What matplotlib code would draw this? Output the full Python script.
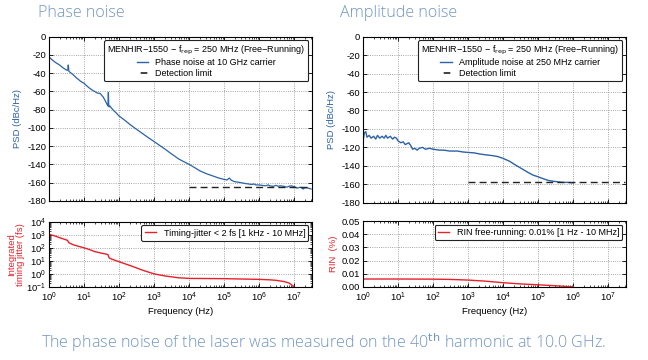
import matplotlib
matplotlib.use("Agg")
import matplotlib.pyplot as plt
from matplotlib.lines import Line2D
from matplotlib.ticker import LogLocator, NullFormatter, MultipleLocator

plt.rcParams['font.family'] = ['Liberation Sans', 'DejaVu Sans']
plt.rcParams['axes.unicode_minus'] = False

# ---------------- data ----------------
pn_freq = [1, 1.2, 1.5, 2, 2.5, 3, 3.3, 3.45, 3.55, 3.7, 4, 5, 6, 7, 8, 10, 12, 15, 18, 20, 22, 25,
           28, 30, 35, 40, 45, 48, 49.5, 50.5, 52, 55, 60, 70, 80, 100, 150, 200, 300, 500, 700,
           1e3, 2e3, 3e3, 5e3, 7e3, 1e4, 1.5e4, 2e4, 3e4, 5e4, 7e4, 1e5, 1.2e5, 1.4e5, 1.6e5, 2e5,
           2.5e5, 3e5, 4e5, 5e5, 6e5, 7e5, 8e5, 1e6, 1.2e6, 1.5e6, 1.8e6, 2e6, 2.5e6, 3e6, 3.5e6,
           4e6, 5e6, 6e6, 7e6, 8e6, 1e7, 1.2e7, 1.5e7, 1.8e7, 2e7, 2.5e7, 3e7]
pn_db = [-22, -25, -28, -31, -34, -36, -37, -36, -31, -38, -39, -42, -45, -47, -49, -51, -54, -57, -59, -60, -61, -62,
         -62, -63, -66, -70, -74, -76, -61, -74, -77, -76, -78, -81, -83, -87, -92, -96, -101, -107, -111,
         -115, -123, -128, -134, -137, -140, -144, -147, -150, -153, -155, -156.5, -157, -155, -157.5, -159,
         -159.5, -160, -161, -161.5, -162, -161.5, -162.5, -162.5, -163, -163.5, -162.5, -163.5, -164, -163, -164,
         -163.5, -164, -165, -164, -163.5, -164.5, -166, -165, -167, -165.5, -166, -167]
pn_lim_freq = [1e4, 3e7]
pn_lim_db = [-165, -165]

an_freq = [1, 1.1, 1.2, 1.3, 1.5, 1.7, 2, 2.3, 2.6, 3, 3.5, 4, 4.5, 5, 6, 7, 8, 9, 10, 12, 14, 16, 18, 20,
           23, 26, 30, 35, 40, 50, 60, 80, 100, 150, 200, 300, 500, 700, 1e3, 1.5e3, 2e3, 3e3, 5e3,
           7e3, 1e4, 1.5e4, 2e4, 3e4, 5e4, 7e4, 1e5, 1.5e5, 2e5, 3e5, 5e5, 7e5, 1e6]
an_db = [-113, -104, -103, -109, -107, -110, -108, -111, -107, -110, -108, -110, -107, -110, -108, -111, -109, -110, -113,
         -115, -114, -117, -116, -115, -118, -122, -121, -123, -121, -120, -122, -121, -122, -123, -123, -124, -124, -125,
         -125.5, -126, -127, -128, -129, -130, -132, -135, -138, -142, -147, -150, -152, -154.5, -156, -157, -158, -158, -158.5]
an_lim_freq = [1e3, 3e7]
an_lim_db = [-157.5, -157.5]

tj_freq = [1, 1.5, 2, 3, 3.4, 3.6, 4, 5, 7, 10, 15, 20, 30, 45, 48, 52, 60, 100, 200, 500, 1e3, 2e3,
           5e3, 1e4, 1e5, 1e6, 2e6, 3e6, 5e6, 7e6, 8.5e6, 9.5e6, 1e7]
tj_fs = [1100, 800, 600, 420, 370, 260, 220, 170, 130, 100, 70, 52, 40, 32, 30, 17, 14, 8.5, 4.5, 1.8, 1.0, 0.7,
         0.5, 0.45, 0.43, 0.38, 0.35, 0.32, 0.26, 0.2, 0.14, 0.1, 0.08]

rin_freq = [1, 10, 100, 300, 1e3, 3e3, 1e4, 3e4, 1e5, 3e5, 1e6]
rin_pct = [0.0060, 0.0060, 0.0059, 0.0057, 0.0052, 0.0044, 0.0032, 0.0023, 0.0016, 0.0009, 0.0]

pn_label = 'Phase noise at 10 GHz carrier'
an_label = 'Amplitude noise at 250 MHz carrier'
lim_label = 'Detection limit'
legend_title = 'MENHIR\u22121550 \u2212 f$_{\\rm rep}$ = 250 MHz (Free\u2212Running)'
tj_label = 'Timing-jitter < 2 fs [1 kHz - 10 MHz]'
rin_label = 'RIN free-running: 0.01% [1 Hz - 10 MHz]'

# ---------------- style ----------------
blue = '#2b62a8'
red = '#e8202a'
head = '#7095c2'
fs = 6.5
tfs = 6.8

fig = plt.figure(figsize=(6.48, 3.6), dpi=100)
ax1 = fig.add_axes([0.0756, 0.442, 0.406, 0.456])
ax2 = fig.add_axes([0.0756, 0.203, 0.406, 0.181])
ax3 = fig.add_axes([0.5602, 0.437, 0.406, 0.461])
ax4 = fig.add_axes([0.5602, 0.203, 0.406, 0.183])

for ax in (ax1, ax2, ax3, ax4):
    ax.set_xscale('log')
    ax.set_xlim(1, 3.2e7)
    ax.xaxis.set_major_locator(LogLocator(base=10, numticks=12))
    ax.xaxis.set_minor_locator(LogLocator(base=10, subs=range(2, 10), numticks=12))
    ax.xaxis.set_minor_formatter(NullFormatter())
    ax.tick_params(which='both', direction='in', top=True, right=True, labelsize=tfs, pad=2)
    ax.tick_params(axis='x', which='both', pad=3)
    ax.tick_params(which='major', length=3, width=0.6)
    ax.tick_params(which='minor', length=1.5, width=0.5)
    ax.grid(True, which='major', linestyle=':', color='#888888', linewidth=0.6)
    for s in ax.spines.values():
        s.set_linewidth(0.8)

def legend(ax, handles=None, **kw):
    if handles is not None:
        kw['handles'] = handles
    lg = ax.legend(loc='upper right', fontsize=fs, frameon=True, fancybox=True, framealpha=1,
                   borderpad=0.35, handlelength=1.3, labelspacing=0.2, borderaxespad=0.4, **kw)
    lg.get_frame().set_edgecolor('#222222')
    lg.get_frame().set_linewidth(0.8)
    return lg

def psd_handles(color, label):
    return [Line2D([], [], color=color, lw=1.0, label=label),
            Line2D([], [], color='#222222', lw=1.2, ls=(11.8, (4, 10)), label=lim_label)]

# Phase noise
ax1.plot(pn_freq, pn_db, color=blue, lw=0.9, label=pn_label)
ax1.plot(pn_lim_freq, pn_lim_db, color='#222222', lw=1.0, ls=(0, (5, 3)), label=lim_label)
ax1.set_ylim(-180, 0)
ax1.yaxis.set_major_locator(MultipleLocator(20))
ax1.tick_params(labelbottom=False)
ax1.set_ylabel('PSD (dBc/Hz)', color=blue, fontsize=tfs, labelpad=4)
legend(ax1, psd_handles(blue, pn_label), title=legend_title, title_fontsize=fs)

# Timing jitter
ax2.plot(tj_freq, tj_fs, color=red, lw=1.0, label=tj_label)
ax2.set_yscale('log')
ax2.set_ylim(0.1, 1e4)
ax2.yaxis.set_major_locator(LogLocator(base=10, numticks=10))
ax2.yaxis.set_minor_locator(LogLocator(base=10, subs=range(2, 10), numticks=10))
ax2.yaxis.set_minor_formatter(NullFormatter())
ax2.set_xlabel('Frequency (Hz)', fontsize=tfs, labelpad=2)
ax2.set_ylabel('Integrated\ntiming jitter (fs)', color=red, fontsize=tfs, labelpad=1, linespacing=0.95)
legend(ax2)

# Amplitude noise
ax3.plot(an_freq, an_db, color=blue, lw=1.0, label=an_label)
ax3.plot(an_lim_freq, an_lim_db, color='#222222', lw=1.0, ls=(0, (5, 3)), label=lim_label)
ax3.set_ylim(-180, 0)
ax3.yaxis.set_major_locator(MultipleLocator(20))
ax3.tick_params(labelbottom=False)
ax3.set_ylabel('PSD (dBc/Hz)', color=blue, fontsize=tfs, labelpad=4)
legend(ax3, psd_handles(blue, an_label), title=legend_title, title_fontsize=fs)

# RIN
ax4.plot(rin_freq, rin_pct, color=red, lw=1.0, label=rin_label)
ax4.set_ylim(0, 0.05)
ax4.yaxis.set_major_locator(MultipleLocator(0.01))
ax4.yaxis.set_major_formatter(plt.FormatStrFormatter('%.2f'))
ax4.set_xlabel('Frequency (Hz)', fontsize=tfs, labelpad=2)
ax4.set_ylabel('RIN  (%)', color=red, fontsize=tfs, labelpad=3)
legend(ax4)

# headings
hfont = ['Open Sans', 'DejaVu Sans']
fig.text(0.058, 0.963, 'Phase noise', color=head, fontsize=11.6, family=hfont, va='center', ha='left', weight='light')
fig.text(0.525, 0.963, 'Amplitude noise', color=head, fontsize=11.6, family=hfont, va='center', ha='left', weight='light')
fig.text(0.5, 0.047, 'The phase noise of the laser was measured on the 40$^{\\rm th}$ harmonic at 10.0 GHz.',
         color=head, fontsize=11.6, family=hfont, va='center', ha='center', weight='light')

fig.savefig('out.png', dpi=100)
